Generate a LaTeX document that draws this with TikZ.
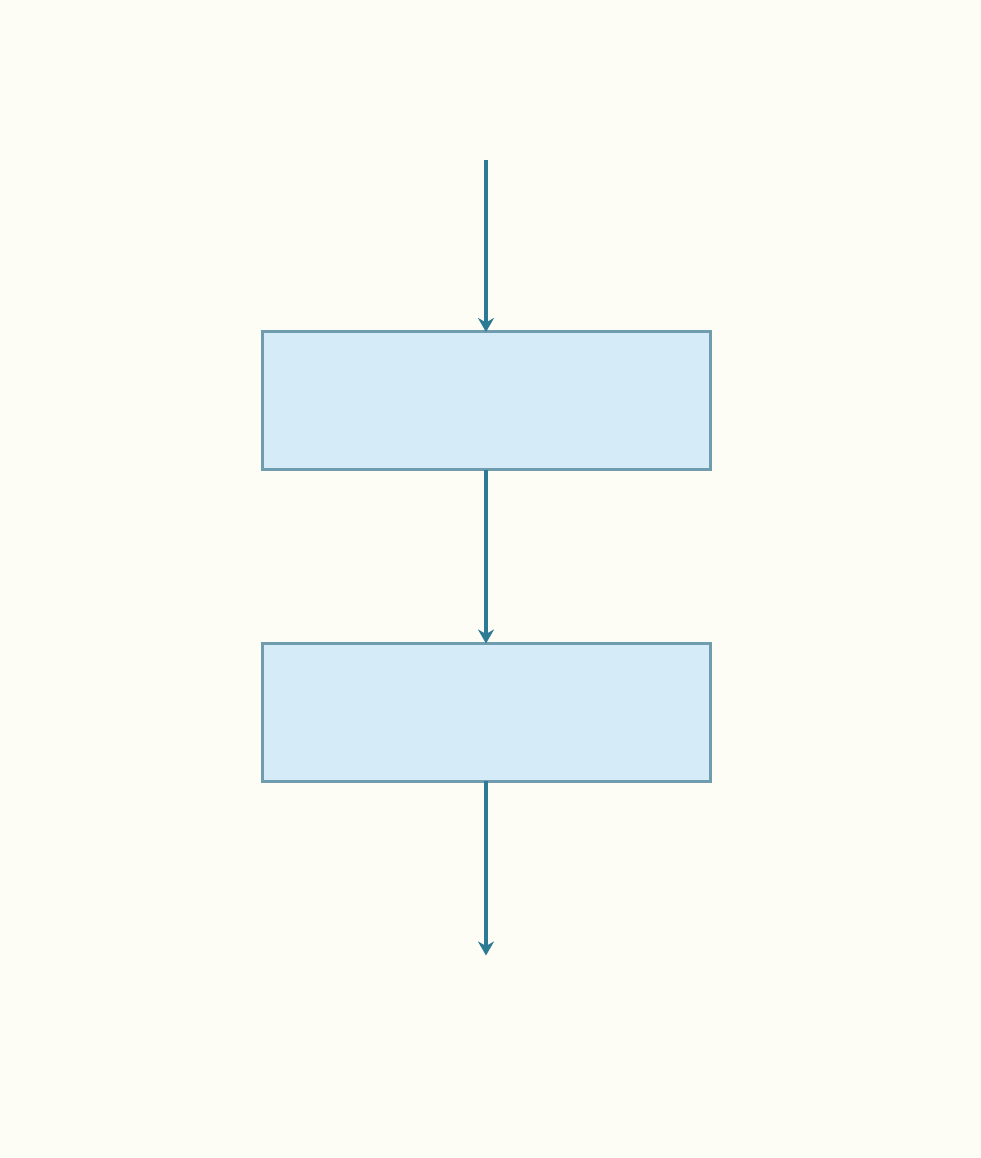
\documentclass[tikz,border=0pt]{standalone}
\usetikzlibrary{positioning,arrows.meta}
\definecolor{paper}{HTML}{FDFDF6}
\definecolor{boxfill}{HTML}{D5EBF7}
\definecolor{boxline}{HTML}{6F9CAE}
\definecolor{flow}{HTML}{2C7A93}
\begin{document}
\begin{tikzpicture}
[x=1pt,y=1pt,
 blk/.style={rectangle,draw=boxline,fill=boxfill,line width=3pt,minimum width=448pt,minimum height=138pt,inner sep=0pt,outer sep=0pt},
 link/.style={draw=flow,line width=4pt,-{Stealth[length=14pt,width=16pt]}}]
\fill[paper] (0,0) rectangle (981,1158);
\useasboundingbox (0,0) rectangle (981,1158);
\node[blk] (b1) at (486,757) {};
\node[blk,on grid,below=311.5pt of b1]  (b2) {};
\coordinate[on grid,above=241pt of b1]  (src);
\coordinate[on grid,below=243pt of b2]  (sink);
\path[link] (src) -- (b1);
\path[link] (b1)  -- (b2);
\path[link] (b2)  -- (sink);
\end{tikzpicture}
\end{document}
